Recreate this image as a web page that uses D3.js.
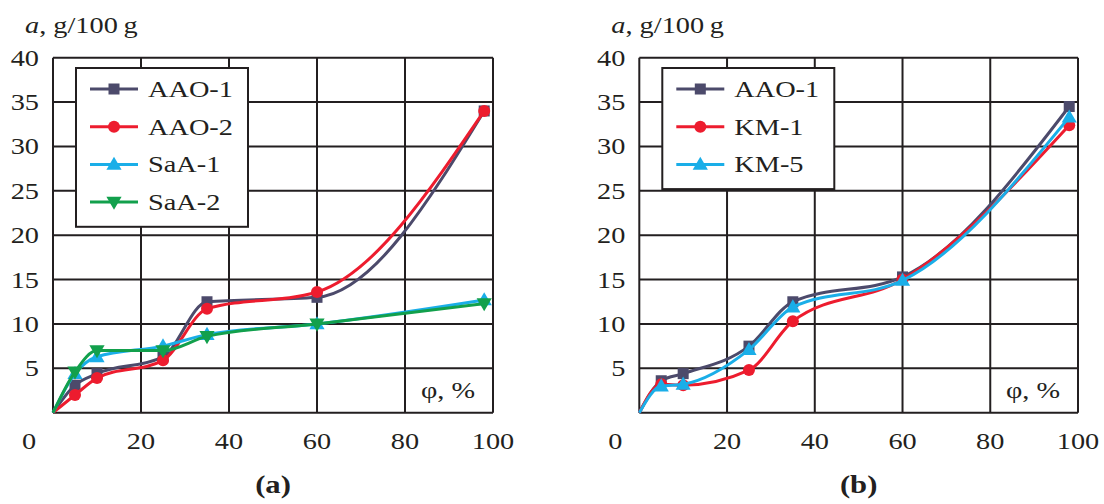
<!DOCTYPE html>
<html>
<head>
<meta charset="utf-8">
<script src="https://cdn.jsdelivr.net/npm/d3@7"></script>
<style>
  body { margin: 0; background: #fff; }
  text { font-family: "Liberation Serif", "Times New Roman", serif; fill: #231f20; }
</style>
</head>
<body>
<div id="chart"></div>
<script>
// shared x values (relative humidity, %), the origin has no marker
var phi = [0, 5, 10, 25, 35, 60, 98];

// panel (a)
var aao1A = [0, 3.1, 4.4, 6.3, 12.5, 13.0, 34.0];
var aao2A = [0, 2.0, 3.9, 5.9, 11.7, 13.6, 34.0];
var saa1 = [0, 4.4, 6.3, 7.5, 8.8, 10.0, 12.7];
var saa2 = [0, 4.6, 7.0, 7.0, 8.6, 10.0, 12.3];

// panel (b)
var aao1B = [0, 3.6, 4.4, 7.5, 12.5, 15.3, 34.5];
var km1 = [0, 3.2, 3.1, 4.8, 10.3, 15.0, 32.4];
var km5 = [0, 3.0, 3.2, 7.1, 11.9, 14.9, 33.3];

var xTicks = [0, 20, 40, 60, 80, 100];
var yTicks = [5, 10, 15, 20, 25, 30, 35, 40];

// svg size
var svgWidth = 1104;
var svgHeight = 504;
var stretch = 1.18; // the type in the figure is a bit wide

var colors = {
  slate: "#4c4a6b",
  red: "#ed1c2e",
  cyan: "#1aaee8",
  green: "#12a04c"
};

var svg = d3.select("#chart")
  .append("svg")
  .attr("width", svgWidth)
  .attr("height", svgHeight);

// text helper, stretched horizontally around its anchor
function addText(g, x, y, str, size, anchor) {
  return g.append("text")
    .attr("transform", `translate(${x}, ${y}) scale(${stretch}, 1)`)
    .style("font-size", size + "px")
    .style("text-anchor", anchor || "start")
    .text(str);
}

function marker(g, type, color, x, y) {
  if (type == "square") {
    g.append("rect")
      .attr("x", x - 5.5).attr("y", y - 5.5)
      .attr("width", 11).attr("height", 11)
      .attr("fill", color);
  } else if (type == "circle") {
    g.append("circle")
      .attr("cx", x).attr("cy", y).attr("r", 6)
      .attr("fill", color);
  } else {
    var rot = type == "down" ? 180 : 0;
    g.append("path")
      .attr("d", d3.symbol(d3.symbolTriangle, 100)())
      .attr("transform", `translate(${x}, ${y + (rot ? -1 : 1)}) rotate(${rot})`)
      .attr("fill", color);
  }
}

function drawPanel(opts) {
  var left = opts.left, right = opts.right;
  var top = 57.7, bottom = 412.7;

  var x = d3.scaleLinear().domain([0, 100]).range([left, right]);
  var y = d3.scaleLinear().domain([0, 40]).range([bottom, top]);

  var g = svg.append("g");

  // grid
  g.selectAll(".vgrid")
    .data(xTicks)
    .enter()
    .append("line")
    .attr("x1", d => x(d)).attr("x2", d => x(d))
    .attr("y1", top).attr("y2", bottom)
    .attr("stroke", "#231f20")
    .attr("stroke-width", 2);

  g.selectAll(".hgrid")
    .data(yTicks.concat([0]))
    .enter()
    .append("line")
    .attr("x1", left).attr("x2", right)
    .attr("y1", d => y(d)).attr("y2", d => y(d))
    .attr("stroke", "#231f20")
    .attr("stroke-width", 2);

  // tick labels
  yTicks.forEach(function(t) {
    addText(g, left - 14, y(t) + 8, t, 24, "end");
  });
  xTicks.forEach(function(t) {
    var px = t == 0 ? x(0) - 24 : x(t);
    addText(g, px, bottom + 36, t, 24, "middle");
  });

  // axis titles
  var ya = g.append("text")
    .attr("transform", `translate(${left - 28}, 33) scale(${stretch}, 1)`)
    .style("font-size", "24px");
  ya.append("tspan").style("font-style", "italic").text("a");
  ya.append("tspan").text(", g/100\u2009g");

  addText(g, right - 18, 398, "\u03c6, %", 24, "end");

  addText(g, (left + right) / 2, 493, opts.label, 26, "middle")
    .style("font-weight", "bold");

  // series
  var line = d3.line()
    .x(d => x(d[0]))
    .y(d => y(d[1]))
    .curve(d3.curveMonotoneX);

  opts.series.forEach(function(s) {
    var pts = phi.map((p, i) => [p, s.values[i]]);
    g.append("path")
      .datum(pts)
      .attr("d", line)
      .attr("fill", "none")
      .attr("stroke", s.color)
      .attr("stroke-width", 3);
    pts.slice(1).forEach(function(p) {
      marker(g, s.shape, s.color, x(p[0]), y(p[1]));
    });
  });

  // legend
  var lx = left + 23, ly = 68;
  var lh = opts.series.length * 37.7 + 8;
  g.append("rect")
    .attr("x", lx).attr("y", ly)
    .attr("width", 172).attr("height", lh)
    .attr("fill", "#fff")
    .attr("stroke", "#231f20")
    .attr("stroke-width", 2);

  opts.series.forEach(function(s, i) {
    var iy = ly + 21 + i * 37.7;
    g.append("line")
      .attr("x1", lx + 14).attr("x2", lx + 62)
      .attr("y1", iy).attr("y2", iy)
      .attr("stroke", s.color)
      .attr("stroke-width", 3);
    marker(g, s.shape, s.color, lx + 38, iy);
    addText(g, lx + 72, iy + 8, s.name, 24);
  });
}

drawPanel({
  left: 53,
  right: 493,
  label: "(a)",
  series: [
    { name: "AAO-1", values: aao1A, color: colors.slate, shape: "square" },
    { name: "AAO-2", values: aao2A, color: colors.red, shape: "circle" },
    { name: "SaA-1", values: saa1, color: colors.cyan, shape: "up" },
    { name: "SaA-2", values: saa2, color: colors.green, shape: "down" }
  ]
});

drawPanel({
  left: 639.3,
  right: 1078,
  label: "(b)",
  series: [
    { name: "AAO-1", values: aao1B, color: colors.slate, shape: "square" },
    { name: "KM-1", values: km1, color: colors.red, shape: "circle" },
    { name: "KM-5", values: km5, color: colors.cyan, shape: "up" }
  ]
});
</script>
</body>
</html>
